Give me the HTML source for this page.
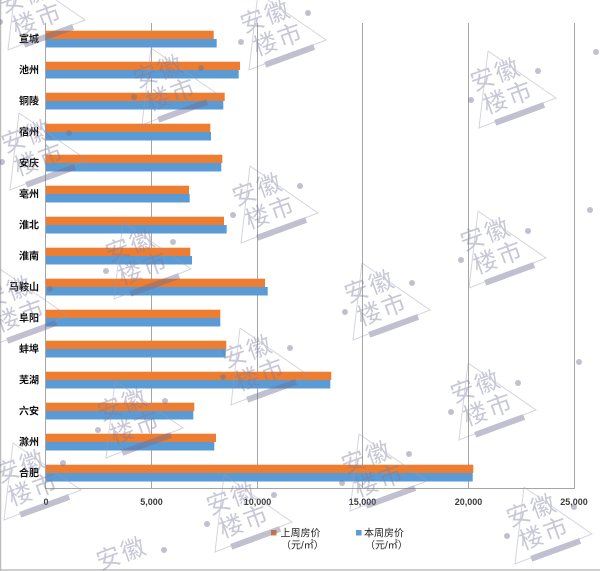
<!DOCTYPE html>
<html>
<head>
<meta charset="utf-8">
<style>
  html, body { margin: 0; padding: 0; background: #ffffff; width: 600px; height: 571px; overflow: hidden; }
  svg { display: block; overflow: hidden; }
  .cat { font-family: "Liberation Sans", "Noto Sans CJK SC", sans-serif; font-size: 10px; font-weight: bold; fill: #111111; }
  .tick { font-family: "Liberation Sans", sans-serif; font-size: 9px; font-weight: bold; fill: #3a3a3a; }
  .leg { font-family: "Liberation Sans", "Noto Sans CJK SC", sans-serif; font-size: 10px; fill: #222222; }
  .wm { opacity: 0.42; }
  .wm text { font-family: "Noto Sans CJK SC", "WenQuanYi Zen Hei", sans-serif; font-size: 24px; fill: #7c7c9e; letter-spacing: 2px; }
  .wm rect, .wm circle { fill: #6c6c90; }
  .wm polyline { fill: none; stroke: #9a9ab4; stroke-width: 1; }
</style>
</head>
<body>
<svg width="600" height="571" viewBox="0 0 600 571" xmlns="http://www.w3.org/2000/svg">
  <rect x="0" y="0" width="600" height="571" fill="#ffffff"/>
  <!-- outer borders -->
  <line x1="0.5" y1="0" x2="0.5" y2="571" stroke="#bdbdbd" stroke-width="1.5"/>
  <line x1="0" y1="570" x2="600" y2="570" stroke="#bdbdbd" stroke-width="1.5"/>

  <!-- gridlines -->
  <g stroke="#a6a6a6" stroke-width="1">
    <line x1="151.5" y1="23" x2="151.5" y2="488"/>
    <line x1="257.5" y1="23" x2="257.5" y2="488"/>
    <line x1="362.5" y1="23" x2="362.5" y2="488"/>
    <line x1="468.5" y1="23" x2="468.5" y2="488"/>
    <line x1="574.5" y1="23" x2="574.5" y2="488"/>
  </g>

  <!-- bars -->
  <g>
    <rect x="46" y="30.7" width="167.7" height="8.3" fill="#ED7D31"/>
    <rect x="46" y="39" width="170.7" height="8.5" fill="#5B9BD5"/>
    <rect x="46" y="61.7" width="194" height="8.3" fill="#ED7D31"/>
    <rect x="46" y="70" width="192.7" height="8.5" fill="#5B9BD5"/>
    <rect x="46" y="92.7" width="178.7" height="8.3" fill="#ED7D31"/>
    <rect x="46" y="101" width="177.3" height="8.5" fill="#5B9BD5"/>
    <rect x="46" y="123.7" width="164.3" height="8.3" fill="#ED7D31"/>
    <rect x="46" y="132" width="165" height="8.5" fill="#5B9BD5"/>
    <rect x="46" y="154.7" width="176.3" height="8.3" fill="#ED7D31"/>
    <rect x="46" y="163" width="175.3" height="8.5" fill="#5B9BD5"/>
    <rect x="46" y="185.7" width="143" height="8.3" fill="#ED7D31"/>
    <rect x="46" y="194" width="143.7" height="8.5" fill="#5B9BD5"/>
    <rect x="46" y="216.7" width="178" height="8.3" fill="#ED7D31"/>
    <rect x="46" y="225" width="180.7" height="8.5" fill="#5B9BD5"/>
    <rect x="46" y="247.7" width="144.3" height="8.3" fill="#ED7D31"/>
    <rect x="46" y="256" width="146" height="8.5" fill="#5B9BD5"/>
    <rect x="46" y="278.7" width="219" height="8.3" fill="#ED7D31"/>
    <rect x="46" y="287" width="221.7" height="8.5" fill="#5B9BD5"/>
    <rect x="46" y="309.7" width="174.3" height="8.3" fill="#ED7D31"/>
    <rect x="46" y="318" width="174.3" height="8.5" fill="#5B9BD5"/>
    <rect x="46" y="340.7" width="180.3" height="8.3" fill="#ED7D31"/>
    <rect x="46" y="349" width="179.7" height="8.5" fill="#5B9BD5"/>
    <rect x="46" y="371.7" width="285.3" height="8.3" fill="#ED7D31"/>
    <rect x="46" y="380" width="284.3" height="8.5" fill="#5B9BD5"/>
    <rect x="46" y="402.7" width="148.3" height="8.3" fill="#ED7D31"/>
    <rect x="46" y="411" width="147.3" height="8.5" fill="#5B9BD5"/>
    <rect x="46" y="433.7" width="170" height="8.3" fill="#ED7D31"/>
    <rect x="46" y="442" width="168.3" height="8.5" fill="#5B9BD5"/>
    <rect x="46" y="464.7" width="427.3" height="8.3" fill="#ED7D31"/>
    <rect x="46" y="473" width="426.7" height="8.5" fill="#5B9BD5"/>
  </g>

  <!-- axes -->
  <line x1="45.5" y1="23" x2="45.5" y2="488.5" stroke="#a6a6a6" stroke-width="1"/>
  <line x1="45" y1="488.5" x2="575" y2="488.5" stroke="#a6a6a6" stroke-width="1"/>

  <!-- category labels -->
  <g class="cat" text-anchor="end">
    <text x="39" y="42.5">宣城</text>
    <text x="39" y="73.5">池州</text>
    <text x="39" y="104.5">铜陵</text>
    <text x="39" y="135.5">宿州</text>
    <text x="39" y="166.5">安庆</text>
    <text x="39" y="197.5">亳州</text>
    <text x="39" y="228.5">淮北</text>
    <text x="39" y="259.5">淮南</text>
    <text x="39" y="290.5">马鞍山</text>
    <text x="39" y="321.5">阜阳</text>
    <text x="39" y="352.5">蚌埠</text>
    <text x="39" y="383.5">芜湖</text>
    <text x="39" y="414.5">六安</text>
    <text x="39" y="445.5">滁州</text>
    <text x="39" y="476.5">合肥</text>
  </g>

  <!-- tick labels -->
  <g class="tick" text-anchor="middle">
    <text x="46" y="505">0</text>
    <text x="151.5" y="505">5,000</text>
    <text x="257.5" y="505">10,000</text>
    <text x="362.5" y="505">15,000</text>
    <text x="468.5" y="505">20,000</text>
    <text x="574" y="505">25,000</text>
  </g>

  <!-- legend -->
  <rect x="271" y="530" width="5.5" height="5.5" fill="#ED7D31"/>
  <text class="leg" x="280.5" y="536.5">上周房价</text>
  <text class="leg" x="281" y="548.5">（元/㎡）</text>
  <rect x="356" y="530" width="5.5" height="5.5" fill="#5B9BD5"/>
  <text class="leg" x="364" y="536.5">本周房价</text>
  <text class="leg" x="365" y="548.5">（元/㎡）</text>

  <!-- watermarks -->
  <g class="wm" transform="translate(35,10)"><polyline points="-18,-37 -27,40 50,10 -18,-37"/><g transform="rotate(-20)"><text x="-31" y="-8">安徽</text><text x="-27" y="18">楼市</text><rect x="-22" y="26" width="52" height="6"/></g><circle cx="32" cy="-17" r="3"/><circle cx="-35" cy="12" r="3"/></g>
  <g class="wm" transform="translate(169,85)"><polyline points="-18,-37 -27,40 50,10 -18,-37"/><g transform="rotate(-20)"><text x="-31" y="-8">安徽</text><text x="-27" y="18">楼市</text><rect x="-22" y="26" width="52" height="6"/></g><circle cx="32" cy="-17" r="3"/><circle cx="-35" cy="12" r="3"/></g>
  <g class="wm" transform="translate(276,30)"><polyline points="-18,-37 -27,40 50,10 -18,-37"/><g transform="rotate(-20)"><text x="-31" y="-8">安徽</text><text x="-27" y="18">楼市</text><rect x="-22" y="26" width="52" height="6"/></g><circle cx="32" cy="-17" r="3"/><circle cx="-35" cy="12" r="3"/></g>
  <g class="wm" transform="translate(506,88)"><polyline points="-18,-37 -27,40 50,10 -18,-37"/><g transform="rotate(-20)"><text x="-31" y="-8">安徽</text><text x="-27" y="18">楼市</text><rect x="-22" y="26" width="52" height="6"/></g><circle cx="32" cy="-17" r="3"/><circle cx="-35" cy="12" r="3"/></g>
  <g class="wm" transform="translate(37,150)"><polyline points="-18,-37 -27,40 50,10 -18,-37"/><g transform="rotate(-20)"><text x="-31" y="-8">安徽</text><text x="-27" y="18">楼市</text><rect x="-22" y="26" width="52" height="6"/></g><circle cx="32" cy="-17" r="3"/><circle cx="-35" cy="12" r="3"/></g>
  <g class="wm" transform="translate(268,203)"><polyline points="-18,-37 -27,40 50,10 -18,-37"/><g transform="rotate(-20)"><text x="-31" y="-8">安徽</text><text x="-27" y="18">楼市</text><rect x="-22" y="26" width="52" height="6"/></g><circle cx="32" cy="-17" r="3"/><circle cx="-35" cy="12" r="3"/></g>
  <g class="wm" transform="translate(496,248)"><polyline points="-18,-37 -27,40 50,10 -18,-37"/><g transform="rotate(-20)"><text x="-31" y="-8">安徽</text><text x="-27" y="18">楼市</text><rect x="-22" y="26" width="52" height="6"/></g><circle cx="32" cy="-17" r="3"/><circle cx="-35" cy="12" r="3"/></g>
  <g class="wm" transform="translate(141,259)"><polyline points="-18,-37 -27,40 50,10 -18,-37"/><g transform="rotate(-20)"><text x="-31" y="-8">安徽</text><text x="-27" y="18">楼市</text><rect x="-22" y="26" width="52" height="6"/></g><circle cx="32" cy="-17" r="3"/><circle cx="-35" cy="12" r="3"/></g>
  <g class="wm" transform="translate(18,306)"><polyline points="-18,-37 -27,40 50,10 -18,-37"/><g transform="rotate(-20)"><text x="-31" y="-8">安徽</text><text x="-27" y="18">楼市</text><rect x="-22" y="26" width="52" height="6"/></g><circle cx="32" cy="-17" r="3"/><circle cx="-35" cy="12" r="3"/></g>
  <g class="wm" transform="translate(380,300)"><polyline points="-18,-37 -27,40 50,10 -18,-37"/><g transform="rotate(-20)"><text x="-31" y="-8">安徽</text><text x="-27" y="18">楼市</text><rect x="-22" y="26" width="52" height="6"/></g><circle cx="32" cy="-17" r="3"/><circle cx="-35" cy="12" r="3"/></g>
  <g class="wm" transform="translate(258,365)"><polyline points="-18,-37 -27,40 50,10 -18,-37"/><g transform="rotate(-20)"><text x="-31" y="-8">安徽</text><text x="-27" y="18">楼市</text><rect x="-22" y="26" width="52" height="6"/></g><circle cx="32" cy="-17" r="3"/><circle cx="-35" cy="12" r="3"/></g>
  <g class="wm" transform="translate(486,400)"><polyline points="-18,-37 -27,40 50,10 -18,-37"/><g transform="rotate(-20)"><text x="-31" y="-8">安徽</text><text x="-27" y="18">楼市</text><rect x="-22" y="26" width="52" height="6"/></g><circle cx="32" cy="-17" r="3"/><circle cx="-35" cy="12" r="3"/></g>
  <g class="wm" transform="translate(133,418)"><polyline points="-18,-37 -27,40 50,10 -18,-37"/><g transform="rotate(-20)"><text x="-31" y="-8">安徽</text><text x="-27" y="18">楼市</text><rect x="-22" y="26" width="52" height="6"/></g><circle cx="32" cy="-17" r="3"/><circle cx="-35" cy="12" r="3"/></g>
  <g class="wm" transform="translate(377,471)"><polyline points="-18,-37 -27,40 50,10 -18,-37"/><g transform="rotate(-20)"><text x="-31" y="-8">安徽</text><text x="-27" y="18">楼市</text><rect x="-22" y="26" width="52" height="6"/></g><circle cx="32" cy="-17" r="3"/><circle cx="-35" cy="12" r="3"/></g>
  <g class="wm" transform="translate(31,480)"><polyline points="-18,-37 -27,40 50,10 -18,-37"/><g transform="rotate(-20)"><text x="-31" y="-8">安徽</text><text x="-27" y="18">楼市</text><rect x="-22" y="26" width="52" height="6"/></g><circle cx="32" cy="-17" r="3"/><circle cx="-35" cy="12" r="3"/></g>
  <g class="wm" transform="translate(242,512)"><polyline points="-18,-37 -27,40 50,10 -18,-37"/><g transform="rotate(-20)"><text x="-31" y="-8">安徽</text><text x="-27" y="18">楼市</text><rect x="-22" y="26" width="52" height="6"/></g><circle cx="32" cy="-17" r="3"/><circle cx="-35" cy="12" r="3"/></g>
  <g class="wm" transform="translate(542,524)"><polyline points="-18,-37 -27,40 50,10 -18,-37"/><g transform="rotate(-20)"><text x="-31" y="-8">安徽</text><text x="-27" y="18">楼市</text><rect x="-22" y="26" width="52" height="6"/></g><circle cx="32" cy="-17" r="3"/><circle cx="-35" cy="12" r="3"/></g>
  <!-- partial watermarks at edges (only in-frame parts) -->
  <g class="wm" transform="translate(132,567)"><g transform="rotate(-20)"><text x="-31" y="-8">安徽</text></g><circle cx="32" cy="-17" r="3"/></g>
  <g class="wm"><circle cx="590" cy="210" r="3"/><circle cx="579" cy="362" r="3"/><circle cx="596" cy="52" r="3"/></g>
</svg>
</body>
</html>
